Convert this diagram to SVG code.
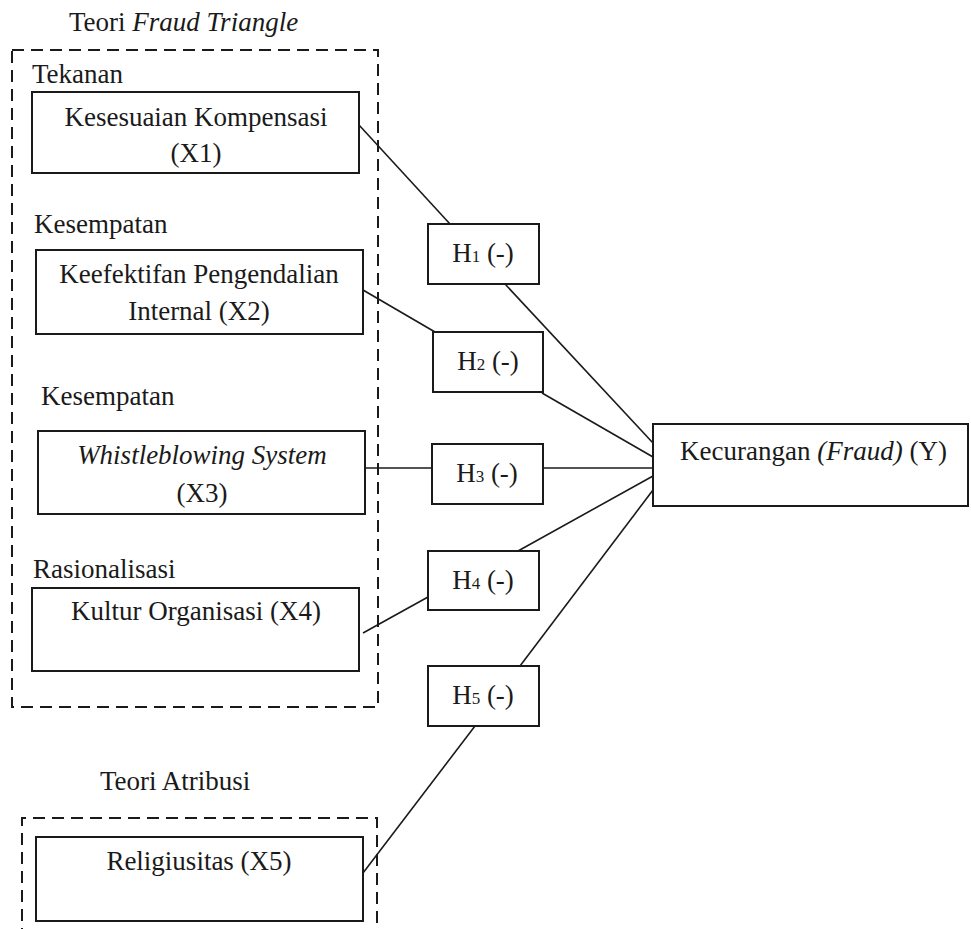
<svg xmlns="http://www.w3.org/2000/svg" width="971" height="929" viewBox="0 0 971 929" font-family="Liberation Serif, DejaVu Serif, serif">
<style>
  text { font-size: 27px; fill: #1a1a1a; }
  .c { text-anchor: middle; }
  .it { font-style: italic; }
  .sub { font-size: 17px; }
  .box { fill: #fff; stroke: #1a1a1a; stroke-width: 2; }
  .dash { fill: none; stroke: #1a1a1a; stroke-width: 2; stroke-dasharray: 12 7; }
  .ln { stroke: #1a1a1a; stroke-width: 1.6; fill: none; }
</style>
<rect width="971" height="929" fill="#fff"/>
<g id="groups">
  <text x="69" y="31">Teori <tspan class="it">Fraud Triangle</tspan></text>
  <rect class="dash" x="12" y="50" width="366" height="657"/>
  <text x="100" y="790">Teori Atribusi</text>
  <path class="dash" d="M22 940 V818 H377 V940"/>
</g>
<g id="connectors">
  <line class="ln" x1="359" y1="125" x2="450" y2="224"/>
  <line class="ln" x1="505" y1="284" x2="653" y2="443"/>
  <line class="ln" x1="363" y1="290" x2="435" y2="332"/>
  <line class="ln" x1="542" y1="393" x2="653" y2="457"/>
  <line class="ln" x1="365" y1="468" x2="432" y2="468"/>
  <line class="ln" x1="543" y1="468" x2="653" y2="468"/>
  <line class="ln" x1="363" y1="633" x2="428" y2="597"/>
  <line class="ln" x1="518" y1="551" x2="653" y2="476"/>
  <line class="ln" x1="520" y1="666" x2="653" y2="490"/>
  <line class="ln" x1="475" y1="726" x2="363" y2="873"/>
</g>
<g id="x1">
  <text x="32" y="83">Tekanan</text>
  <rect class="box" x="32" y="92" width="327" height="81"/>
  <text class="c" x="196" y="126">Kesesuaian Kompensasi</text>
  <text class="c" x="196" y="162">(X1)</text>
</g>
<g id="x2">
  <text x="34" y="233">Kesempatan</text>
  <rect class="box" x="36" y="250" width="327" height="84"/>
  <text class="c" x="199" y="283">Keefektifan Pengendalian</text>
  <text class="c" x="199" y="320">Internal (X2)</text>
</g>
<g id="x3">
  <text x="41" y="405">Kesempatan</text>
  <rect class="box" x="38" y="431" width="327" height="83"/>
  <text class="c it" x="202" y="464">Whistleblowing System</text>
  <text class="c" x="202" y="502">(X3)</text>
</g>
<g id="x4">
  <text x="33" y="578">Rasionalisasi</text>
  <rect class="box" x="32" y="588" width="327" height="83"/>
  <text class="c" x="196" y="620">Kultur Organisasi (X4)</text>
</g>
<g id="x5">
  <rect class="box" x="36" y="837" width="327" height="84"/>
  <text class="c" x="199" y="870">Religiusitas (X5)</text>
</g>
<g id="h1">
  <rect class="box" x="428" y="224" width="111" height="60"/>
  <text class="c" x="483" y="262">H<tspan class="sub">1</tspan> (-)</text>
</g>
<g id="h2">
  <rect class="box" x="433" y="332" width="110" height="60"/>
  <text class="c" x="488" y="370">H<tspan class="sub">2</tspan> (-)</text>
</g>
<g id="h3">
  <rect class="box" x="432" y="444" width="111" height="60"/>
  <text class="c" x="487" y="482">H<tspan class="sub">3</tspan> (-)</text>
</g>
<g id="h4">
  <rect class="box" x="428" y="551" width="111" height="59"/>
  <text class="c" x="483" y="589">H<tspan class="sub">4</tspan> (-)</text>
</g>
<g id="h5">
  <rect class="box" x="428" y="666" width="111" height="60"/>
  <text class="c" x="483" y="704">H<tspan class="sub">5</tspan> (-)</text>
</g>
<g id="y">
  <rect class="box" x="653" y="424" width="315" height="82"/>
  <text x="680" y="460">Kecurangan <tspan class="it">(Fraud)</tspan> (Y)</text>
</g>
</svg>
